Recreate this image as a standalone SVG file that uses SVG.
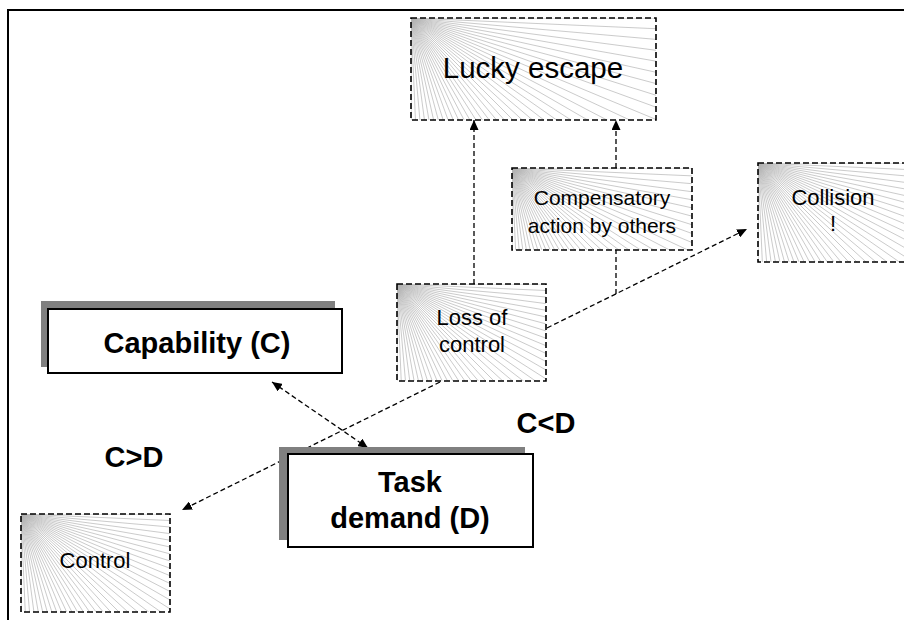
<svg xmlns="http://www.w3.org/2000/svg" xmlns:xlink="http://www.w3.org/1999/xlink" width="904" height="620" viewBox="0 0 904 620">
  <style>
    text { font-family: "Liberation Sans", Arial, sans-serif; fill: #000; text-anchor: middle; }
    .state { fill: #fff; stroke: none; }
    .dash-border { fill: none; stroke: #000; stroke-width: 1.6; stroke-dasharray: 6 3; }
    .fan { fill: none; stroke: #b4b4b4; stroke-width: 0.7; }
    .link { fill: none; stroke: #000; stroke-width: 1.3; stroke-dasharray: 5 3; }
    .shadow { fill: #808080; stroke: none; }
    .main { fill: #fff; stroke: #000; stroke-width: 2; }
    .big { font-size: 29px; font-weight: bold; }
    .label { font-size: 22px; }
  </style>
  <defs>
    <marker id="arrow" viewBox="0 0 10 9" refX="10" refY="4.5" markerWidth="10" markerHeight="9" markerUnits="userSpaceOnUse" orient="auto-start-reverse">
      <path d="M0,0 L10,4.5 L0,9 z" fill="#000"/>
    </marker>
    <!-- radial hatching spreading from a box's top-left corner, one ray every 2.5 degrees -->
    <path id="fan" class="fan" d="M0 0L300 0M0 0L299.7 13.1M0 0L298.9 26.1M0 0L297.4 39.2M0 0L295.4 52.1M0 0L292.9 64.9M0 0L289.8 77.6M0 0L286.1 90.2M0 0L281.9 102.6M0 0L277.2 114.8M0 0L271.9 126.8M0 0L266.1 138.5M0 0L259.8 150M0 0L253 161.2M0 0L245.7 172.1M0 0L238 182.6M0 0L229.8 192.8M0 0L221.2 202.7M0 0L212.1 212.1M0 0L202.7 221.2M0 0L192.8 229.8M0 0L182.6 238M0 0L172.1 245.7M0 0L161.2 253M0 0L150 259.8M0 0L138.5 266.1M0 0L126.8 271.9M0 0L114.8 277.2M0 0L102.6 281.9M0 0L90.2 286.1M0 0L77.6 289.8M0 0L64.9 292.9M0 0L52.1 295.4M0 0L39.2 297.4M0 0L26.1 298.9M0 0L13.1 299.7M0 0L0 300"/>
    <clipPath id="clip-lucky"><rect x="411" y="18" width="245" height="102"/></clipPath>
    <clipPath id="clip-comp"><rect x="512" y="168" width="180" height="82"/></clipPath>
    <clipPath id="clip-collision"><rect x="758" y="163" width="150" height="99"/></clipPath>
    <clipPath id="clip-loss"><rect x="397" y="284" width="149" height="97"/></clipPath>
    <clipPath id="clip-control"><rect x="21" y="514" width="149" height="98"/></clipPath>
  </defs>

  <!-- outer frame -->
  <path d="M8 620 L8 10 L904 10" fill="none" stroke="#000" stroke-width="2"/>

  <!-- connectors -->
  <g id="connectors">
    <path class="link" d="M474 284 L474 120" marker-end="url(#arrow)"/>
    <path class="link" d="M616 168 L616 120" marker-end="url(#arrow)"/>
    <path class="link" d="M616 294 L616 250"/>
    <path class="link" d="M547 328 L747 229" marker-end="url(#arrow)"/>
    <path class="link" d="M440 382 L182 510" marker-end="url(#arrow)"/>
    <path class="link" d="M272 382 L368 448" marker-start="url(#arrow)" marker-end="url(#arrow)"/>
  </g>

  <!-- outcome states -->
  <g id="lucky-escape">
    <rect class="state" x="411" y="18" width="245" height="102"/>
    <g clip-path="url(#clip-lucky)"><use xlink:href="#fan" x="411" y="18"/></g>
    <rect class="dash-border" x="411" y="18" width="245" height="102"/>
    <text x="533" y="78" font-size="29.5">Lucky escape</text>
  </g>

  <g id="compensatory-action">
    <rect class="state" x="512" y="168" width="180" height="82"/>
    <g clip-path="url(#clip-comp)"><use xlink:href="#fan" x="512" y="168"/></g>
    <rect class="dash-border" x="512" y="168" width="180" height="82"/>
    <text x="602" y="205" font-size="21">Compensatory</text>
    <text x="602" y="233" font-size="21">action by others</text>
  </g>

  <g id="collision">
    <rect class="state" x="758" y="163" width="150" height="99"/>
    <g clip-path="url(#clip-collision)"><use xlink:href="#fan" x="758" y="163"/></g>
    <rect class="dash-border" x="758" y="163" width="150" height="99"/>
    <text class="label" x="833" y="205">Collision</text>
    <text class="label" x="833" y="231">!</text>
  </g>

  <g id="loss-of-control">
    <rect class="state" x="397" y="284" width="149" height="97"/>
    <g clip-path="url(#clip-loss)"><use xlink:href="#fan" x="397" y="284"/></g>
    <rect class="dash-border" x="397" y="284" width="149" height="97"/>
    <text class="label" x="472" y="325">Loss of</text>
    <text class="label" x="472" y="352">control</text>
  </g>

  <g id="control">
    <rect class="state" x="21" y="514" width="149" height="98"/>
    <g clip-path="url(#clip-control)"><use xlink:href="#fan" x="21" y="514"/></g>
    <rect class="dash-border" x="21" y="514" width="149" height="98"/>
    <text class="label" x="95" y="568">Control</text>
  </g>

  <!-- capability and demand -->
  <g id="capability">
    <rect class="shadow" x="41" y="301" width="294" height="66"/>
    <rect class="main" x="48" y="309" width="294" height="64"/>
    <text class="big" x="197" y="353">Capability (C)</text>
  </g>

  <g id="task-demand">
    <rect class="shadow" x="279" y="447" width="246" height="93"/>
    <rect class="main" x="288" y="454" width="245" height="93"/>
    <text class="big" x="410" y="492">Task</text>
    <text class="big" x="410" y="528">demand (D)</text>
  </g>

  <g id="condition-labels">
    <text class="big" x="134" y="467">C&gt;D</text>
    <text class="big" x="546" y="433">C&lt;D</text>
  </g>
</svg>
